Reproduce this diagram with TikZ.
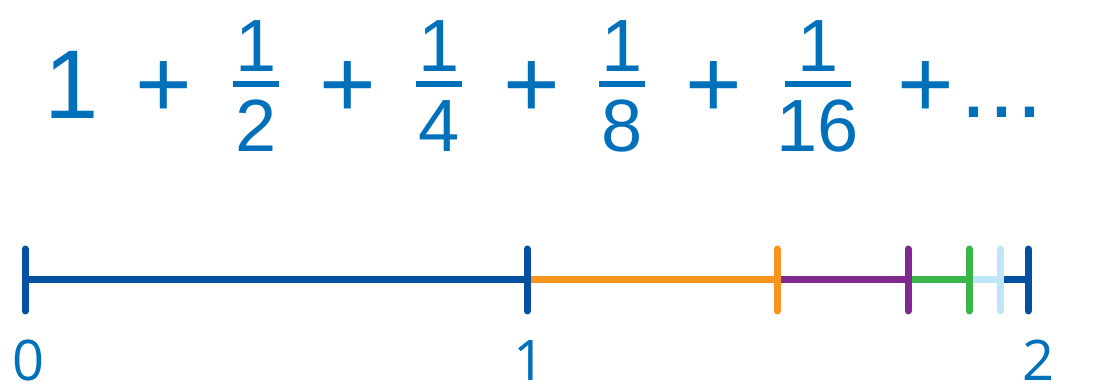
\documentclass[tikz,border=0pt]{standalone}
\usepackage{fontspec}
\setmainfont{Liberation Sans}
\newfontfamily\arialfont{Liberation Sans}
\newfontfamily\labelfont{Open Sans}
\definecolor{txtblue}{HTML}{0070BA}
\definecolor{lineblue}{HTML}{0450A0}
\definecolor{segorange}{HTML}{F7941D}
\definecolor{segpurple}{HTML}{7F2B8E}
\definecolor{seggreen}{HTML}{3AB54A}
\definecolor{seglight}{HTML}{BEE5F8}
\begin{document}
\begin{tikzpicture}[x=1pt,y=-1pt,
  big/.style={inner sep=0pt,anchor=base,text=txtblue,font=\arialfont\fontsize{97}{97}\selectfont},
  fr/.style={inner sep=0pt,anchor=base,text=txtblue,font=\arialfont\fontsize{74}{74}\selectfont},
  lab/.style={inner sep=0pt,anchor=base,text=txtblue,font=\labelfont\fontsize{56}{56}\selectfont},
  seg/.style={line width=7pt},
  tick/.style={line width=7pt,line cap=round},
  fbar/.style={line width=6pt,txtblue}]
\useasboundingbox (0,0) rectangle (1101,387);
% top formula
\node[fr,scale=1.32] (one) at (72,119) {1};
\node[big] (p1) at (164,118) {+};
\node[fr] (n2) at (256,72) {1};
\draw[fbar] (233,84) -- (279,84);
\node[fr] (d2) at (256,152) {2};
\node[big] (p2) at (348,118) {+};
\node[fr] (n4) at (439,72) {1};
\draw[fbar] (416,84) -- (462,84);
\node[fr] (d4) at (439,152) {4};
\node[big] (p3) at (532,118) {+};
\node[fr] (n8) at (622,72) {1};
\draw[fbar] (599,84) -- (645,84);
\node[fr] (d8) at (622,152) {8};
\node[big] (p4) at (714,118) {+};
\node[fr] (n16) at (818,72) {1};
\draw[fbar] (785,84) -- (851,84);
\node[fr] (d16) at (818,152) {16};
\node[big] (p5) at (926,118) {+};
\node[big] (dots) at (1002,118) {.\kern1pt.\kern1pt.};
% number line
\coordinate (a0) at (25,280);
\coordinate (a1) at (527,280);
\coordinate (a2) at (777,280);
\coordinate (a3) at (908,280);
\coordinate (a4) at (969,280);
\coordinate (a5) at (1000,280);
\coordinate (a6) at (1028,280);
\draw[seg,lineblue] (a0) -- (a1);
\draw[seg,segorange] (a1) -- (a2);
\draw[seg,segpurple] (a2) -- (a3);
\draw[seg,seggreen] (a3) -- (a4);
\draw[seg,seglight] (a4) -- (a5);
\draw[seg,lineblue] (a5) -- (a6);
\draw[tick,lineblue] ([yshift=-31pt]a0) -- ([yshift=31pt]a0);
\draw[tick,lineblue] ([yshift=-31pt]a1) -- ([yshift=31pt]a1);
\draw[tick,segorange] ([yshift=-31pt]a2) -- ([yshift=31pt]a2);
\draw[tick,segpurple] ([yshift=-31pt]a3) -- ([yshift=31pt]a3);
\draw[tick,seggreen] ([yshift=-31pt]a4) -- ([yshift=31pt]a4);
\draw[tick,seglight] ([yshift=-31pt]a5) -- ([yshift=31pt]a5);
\draw[tick,lineblue] ([yshift=-31pt]a6) -- ([yshift=31pt]a6);
\node[lab] (l0) at (29,381) {0};
\node[lab] (l1) at (530,381) {1};
\node[lab] (l2) at (1038,381) {2};
\end{tikzpicture}
\end{document}
